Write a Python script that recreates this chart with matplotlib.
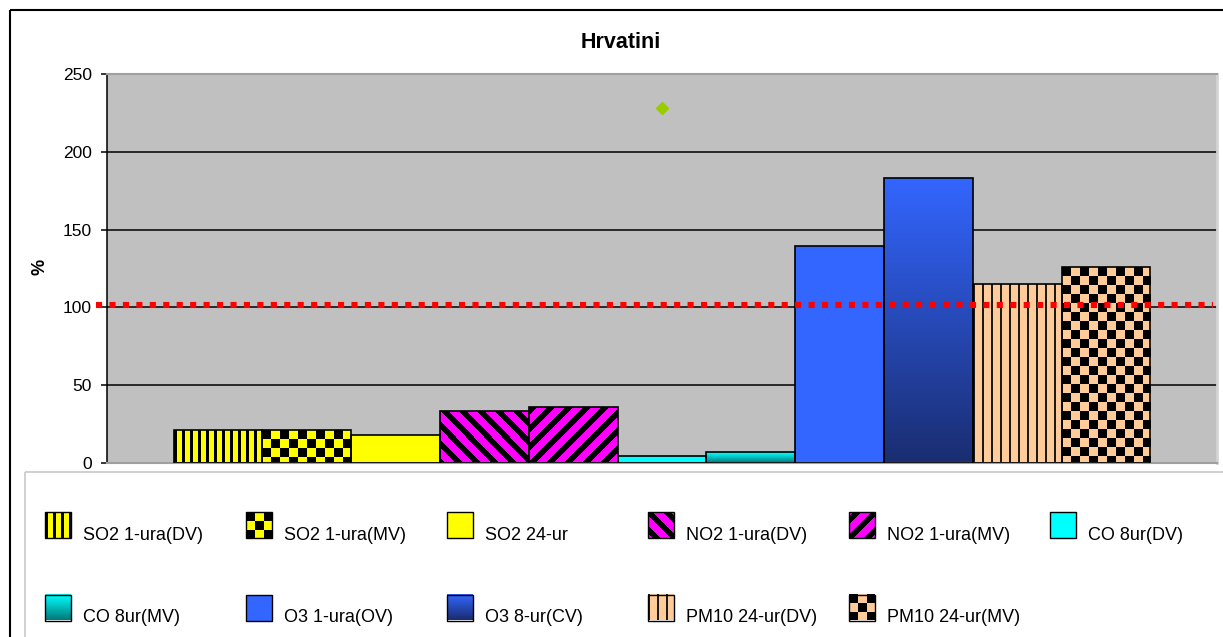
import numpy as np
import matplotlib
matplotlib.use("Agg")
import matplotlib.pyplot as plt
from matplotlib.patches import Rectangle
from matplotlib.colors import to_rgb

plt.rcParams["font.family"] = ["Liberation Sans", "DejaVu Sans"]

# ---------------- data ----------------
station = "Hrvatini"
series_labels = [
    "SO2 1-ura(DV)", "SO2 1-ura(MV)", "SO2 24-ur", "NO2 1-ura(DV)",
    "NO2 1-ura(MV)", "CO 8ur(DV)", "CO 8ur(MV)", "O3 1-ura(OV)",
    "O3 8-ur(CV)", "PM10 24-ur(DV)", "PM10 24-ur(MV)",
]
series_values = [21, 21, 18, 33.5, 36, 4, 7, 139.5, 183, 115, 126]
point_value = 228
limit_value = 101.5
y_ticks = [0, 50, 100, 150, 200, 250]
y_label = "%"

# fill style per series: (pattern, foreground, background)
styles = [
    ("vstripe", "#000000", "#ffff00"),
    ("checker", "#000000", "#ffff00"),
    ("solid", None, "#ffff00"),
    ("diag_down", "#000000", "#ff00ff"),
    ("diag_up", "#000000", "#ff00ff"),
    ("solid", None, "#00ffff"),
    ("gradient", "#007a7a", "#00ffff"),
    ("solid", None, "#3366ff"),
    ("gradient", "#1a2d70", "#3366ff"),
    ("vline", "#1a1a1a", "#ffcc99"),
    ("checker", "#000000", "#ffcc99"),
]


def texture(kind, fg, bg, w, h, phase=0):
    """Return an (h, w, 3) RGB pixel texture for a fill pattern."""
    bgc = np.array(to_rgb(bg))
    fgc = np.array(to_rgb(fg))
    if kind == "gradient":
        t = np.linspace(0.0, 1.0, h)[:, None, None]
        arr = (1 - t) * bgc + t * fgc
        return np.broadcast_to(arr, (h, w, 3)).copy()
    cols = np.arange(w)[None, :]
    rows = np.arange(h)[:, None]
    if kind == "vstripe":
        mask = (cols % 8) < 3
    elif kind == "vline":
        mask = (cols % 9) < 2
    elif kind == "diag_down":
        mask = ((cols - rows + phase) % 18) < 8
    elif kind == "diag_up":
        mask = ((cols + rows + phase) % 18) < 8
    elif kind == "checker":
        mask = ((cols // 9 + rows // 9) % 2) == 0
    else:
        mask = np.zeros((h, w), bool)
    mask = np.broadcast_to(mask, (h, w))
    return np.where(mask[..., None], fgc, bgc)


W, H = 1223, 637
fig = plt.figure(figsize=(W / 100, H / 100), dpi=100)
fig.patch.set_facecolor("white")

# plot area in pixels
pl, pt, pr, pb = 107, 74.3, 1217, 462.7
ax = fig.add_axes([pl / W, 1 - pb / H, (pr - pl) / W, (pb - pt) / H])
ax.set_facecolor("#c0c0c0")

n = len(series_values)
x = np.arange(n)
side_gap = 0.75
xlim = (-0.5 - side_gap, n - 0.5 + side_gap)
ylim = (y_ticks[0], y_ticks[-1])
sx = (pr - pl) / (xlim[1] - xlim[0])
sy = (pb - pt) / (ylim[1] - ylim[0])

for v in y_ticks[1:-1]:
    ax.axhline(v, color="black", linewidth=1.1, zorder=1)

bars = ax.bar(x, series_values, width=1.0, color=[s[2] for s in styles],
              edgecolor="none", zorder=2)
for bar, (kind, fg, bg) in zip(bars, styles):
    if kind == "solid":
        continue
    x0, w, h = bar.get_x(), bar.get_width(), bar.get_height()
    pw = max(1, int(round(w * sx)))
    ph = max(1, int(round(h * sy)))
    img = texture(kind, fg, bg, pw, ph)
    im = ax.imshow(img, extent=(x0, x0 + w, 0, h), origin="upper",
                   aspect="auto", interpolation="nearest", zorder=2.5)
    im.set_clip_path(bar)
ax.bar(x, series_values, width=1.0, fill=False, edgecolor="black",
       linewidth=1.2, zorder=3)

ax.plot([-0.01, 0.996], [limit_value, limit_value],
        transform=ax.get_yaxis_transform(), color="#ff0000", lw=4.4,
        linestyle=(0, (1.0, 1.2)), dash_capstyle="butt", clip_on=False,
        zorder=4)
ax.plot([x.mean()], [point_value], ls="none", marker="D", ms=6,
        mfc="#99cc00", mec="#99cc00", zorder=5)

ax.set_xlim(xlim)
ax.set_ylim(ylim)
ax.set_xticks([])
ax.set_yticks(y_ticks)
ax.tick_params(axis="y", direction="out", length=4.3, width=1.1, pad=6.5,
               labelsize=12.5, colors="black")
ax.spines["left"].set_color("black")
ax.spines["left"].set_linewidth(1.1)
ax.spines["top"].set_color("#a0a0a0")
ax.spines["top"].set_linewidth(1.5)
ax.spines["right"].set_color("#d4d4d4")
ax.spines["right"].set_linewidth(2)
ax.spines["bottom"].set_color("#a0a0a0")
ax.spines["bottom"].set_linewidth(1.5)

# overlay in pixel coordinates: frame, title, axis label, legend
lax = fig.add_axes([0, 0, 1, 1])
lax.set_zorder(-1)
lax.patch.set_visible(False)
lax.add_patch(Rectangle((10, 10), 1400, 800, fill=False, ec="black", lw=1.5))
lax.add_patch(Rectangle((25, 472), 1400, 400, fill=False, ec="#c8c8c8", lw=1.2))
lax.text(621, 43, station, ha="center", va="center", fontsize=15.5,
         fontweight="bold")
lax.text(40, 267, y_label, rotation=90, ha="center", va="center",
         fontsize=13, fontweight="bold")

col_x0, col_dx = 45, 201
row_y = [512, 594.5]
key = 26
for i, (label, (kind, fg, bg)) in enumerate(zip(series_labels, styles)):
    r, c = divmod(i, 6)
    px, py = col_x0 + c * col_dx, row_y[r]
    if kind == "solid":
        lax.add_patch(Rectangle((px, py), key, key, fc=bg, ec="none"))
    else:
        img = texture(kind, fg, bg, key, key, phase=3 if kind == "diag_down" else -22)
        lax.imshow(img, extent=(px, px + key, py + key, py), origin="upper",
                   aspect="auto", interpolation="nearest")
    lax.add_patch(Rectangle((px, py), key, key, fill=False, ec="black", lw=1.0))
    lax.text(px + 38, py + key + 1.5, label, fontsize=13, va="baseline",
             ha="left")

lax.set_xlim(0, W)
lax.set_ylim(H, 0)
lax.axis("off")

fig.savefig("out.png", dpi=100)
